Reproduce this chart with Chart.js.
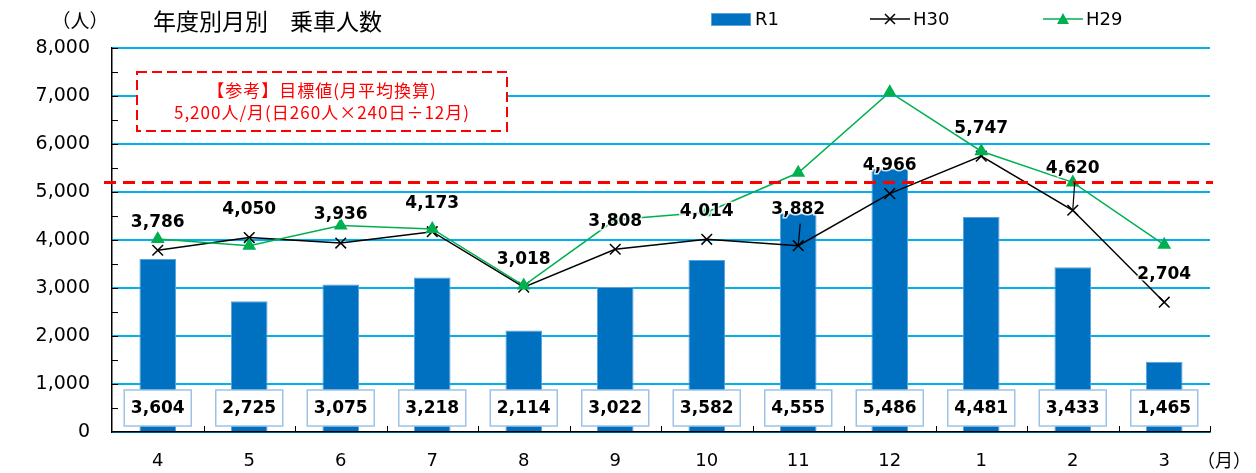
<!DOCTYPE html>
<html>
<head>
<meta charset="utf-8">
<script src="https://cdn.jsdelivr.net/npm/chart.js@4.4.0/dist/chart.umd.min.js"></script>
<style>
html, body { margin: 0; padding: 0; background: #fff; }
</style>
</head>
<body>
<canvas id="myChart" width="1256" height="473"></canvas>
<script>
// data
let months = ['4', '5', '6', '7', '8', '9', '10', '11', '12', '1', '2', '3'];
let r1 = [3604, 2725, 3075, 3218, 2114, 3022, 3582, 4555, 5486, 4481, 3433, 1465];
let h30 = [3786, 4050, 3936, 4173, 3018, 3808, 4014, 3882, 4966, 5747, 4620, 2704];
let h29 = [4020, 3880, 4300, 4230, 3050, 4420, 4580, 5400, 7080, 5850, 5200, 3900];
let target = 5200;
let boxLevel = 500;

let numFont = '"DejaVu Sans", Verdana, sans-serif';
let jpFont = '"Noto Sans CJK JP", sans-serif';
let fmt = v => v.toLocaleString('en-US');

// H30 labels that sit higher and get a leader line (index: extra lift in px)
let raised = { 7: 36, 10: 42 };

let extras = {
  id: 'extras',
  afterDatasetsDraw(chart) {
    let c = chart.ctx, ys = chart.scales.y, a = chart.chartArea;
    c.save();

    // inner tick marks
    c.strokeStyle = '#000';
    c.lineWidth = 1;
    for (let v = 500; v <= 8000; v += 500) {
      let py = Math.round(ys.getPixelForValue(v)) + 0.5;
      c.beginPath(); c.moveTo(a.left, py); c.lineTo(a.left + 6, py); c.stroke();
    }
    for (let i = 1; i <= months.length; i++) {
      let px = Math.round(a.left + (a.right - a.left) * i / months.length) + 0.5;
      c.beginPath(); c.moveTo(px, a.bottom); c.lineTo(px, a.bottom - 6); c.stroke();
    }

    // target line
    let ty = ys.getPixelForValue(target);
    c.strokeStyle = '#FF0000';
    c.lineWidth = 3;
    c.setLineDash([12, 7]);
    c.beginPath(); c.moveTo(a.left - 8, ty); c.lineTo(a.right + 3, ty); c.stroke();
    c.setLineDash([]);

    // R1 value boxes
    c.font = 'bold 17px ' + numFont;
    c.textAlign = 'center';
    c.textBaseline = 'middle';
    let by = ys.getPixelForValue(boxLevel);
    chart.getDatasetMeta(0).data.forEach((b, i) => {
      c.fillStyle = '#fff';
      c.fillRect(b.x - 33.5, by - 18, 67, 36);
      c.strokeStyle = '#9DC3E6';
      c.lineWidth = 1.5;
      c.strokeRect(b.x - 33.5, by - 18, 67, 36);
      c.fillStyle = '#000';
      c.fillText(fmt(r1[i]), b.x, by + 1);
    });

    // H30 labels
    chart.getDatasetMeta(1).data.forEach((p, i) => {
      let lift = raised[i] || 28;
      let ly = p.y - lift;
      if (raised[i]) {
        c.strokeStyle = '#000';
        c.lineWidth = 1.2;
        c.beginPath(); c.moveTo(p.x + 2, ly + 14); c.lineTo(p.x, p.y); c.stroke();
      }
      c.lineWidth = 3;
      c.strokeStyle = 'rgba(255,255,255,0.8)';
      c.strokeText(fmt(h30[i]), p.x, ly);
      c.fillStyle = '#000';
      c.fillText(fmt(h30[i]), p.x, ly);
    });
    c.restore();
  },
  afterDraw(chart) {
    let c = chart.ctx;
    c.save();

    // note box
    c.fillStyle = '#fff';
    c.fillRect(137, 72, 370, 59);
    c.strokeStyle = '#FF0000';
    c.lineWidth = 2;
    c.setLineDash([10, 5]);
    c.strokeRect(137, 72, 370, 59);
    c.setLineDash([]);
    c.fillStyle = '#FF0000';
    c.font = '17px ' + jpFont;
    c.textAlign = 'center';
    c.textBaseline = 'middle';
    c.letterSpacing = '1px';
    c.fillText('【参考】目標値(月平均換算)', 322, 91);
    c.fillText('5,200人/月(日260人×240日÷12月)', 322, 113);
    c.letterSpacing = '0px';

    // title and units
    c.fillStyle = '#000';
    c.font = '23px ' + jpFont;
    c.textAlign = 'left';
    c.fillText('年度別月別', 153, 21);
    c.fillText('乗車人数', 290, 21);
    c.font = '19px ' + jpFont;
    c.textAlign = 'center';
    c.fillText('（人）', 80, 21);
    c.font = '18px ' + jpFont;
    c.fillText('（月）', 1224, 460);

    // legend
    c.fillStyle = '#0070C0';
    c.fillRect(711, 13, 40, 13);
    c.strokeStyle = '#5BA3D9';
    c.lineWidth = 1;
    c.strokeRect(711.5, 13.5, 39, 12);
    c.fillStyle = '#000';
    c.font = '18px ' + numFont;
    c.textAlign = 'left';
    c.fillText('R1', 755, 20);
    c.fillText('H30', 913, 20);
    c.fillText('H29', 1086, 20);

    c.strokeStyle = '#000';
    c.lineWidth = 1.5;
    c.beginPath(); c.moveTo(870, 19); c.lineTo(910, 19); c.stroke();
    c.beginPath();
    c.moveTo(885, 14); c.lineTo(895, 24);
    c.moveTo(895, 14); c.lineTo(885, 24);
    c.stroke();

    c.strokeStyle = '#00B050';
    c.beginPath(); c.moveTo(1043, 19); c.lineTo(1083, 19); c.stroke();
    c.fillStyle = '#00B050';
    c.beginPath();
    c.moveTo(1063, 13); c.lineTo(1069, 24); c.lineTo(1057, 24); c.closePath();
    c.fill();

    c.restore();
  }
};

let ctx = document.getElementById('myChart').getContext('2d');
let chart = new Chart(ctx, {
  type: 'bar',
  data: {
    labels: months,
    datasets: [{
      label: 'R1',
      data: r1,
      backgroundColor: '#0070C0',
      borderColor: '#5BA3D9',
      borderWidth: 1,
      barPercentage: 0.4,
      categoryPercentage: 1,
      order: 3
    }, {
      type: 'line',
      label: 'H30',
      data: h30,
      borderColor: '#000',
      borderWidth: 1.5,
      pointStyle: 'crossRot',
      pointRadius: 7.5,
      pointBorderWidth: 1.5,
      pointBorderColor: '#000',
      tension: 0,
      order: 2
    }, {
      type: 'line',
      label: 'H29',
      data: h29,
      borderColor: '#00B050',
      backgroundColor: '#00B050',
      borderWidth: 1.5,
      pointStyle: 'triangle',
      pointRadius: 6.5,
      pointBackgroundColor: '#00B050',
      pointBorderColor: '#00B050',
      tension: 0,
      order: 1
    }]
  },
  options: {
    responsive: false,
    animation: false,
    layout: { padding: { left: 0, top: 48, right: 46, bottom: 0 } },
    plugins: {
      legend: { display: false },
      tooltip: { enabled: false }
    },
    scales: {
      x: {
        grid: { display: false },
        border: { display: true, color: '#000', width: 1.5 },
        ticks: { color: '#000', font: { size: 18, family: numFont }, padding: 11 },
        afterFit: s => { s.height = 41; }
      },
      y: {
        min: 0,
        max: 8000,
        ticks: {
          stepSize: 500,
          color: '#000',
          padding: 22,
          font: { size: 19, family: numFont },
          callback: v => (v % 1000 === 0 ? fmt(v) : '')
        },
        grid: {
          drawTicks: false,
          lineWidth: g => (g.tick && g.tick.value % 1000 === 0 ? 2 : 1.5),
          color: g => (g.tick && g.tick.value % 1000 === 0 ? '#00B0F0' : '#BFBFBF')
        },
        border: { display: true, color: '#000', width: 1.5 },
        afterFit: s => { s.width = 112; }
      }
    }
  },
  plugins: [extras]
});
</script>
</body>
</html>
